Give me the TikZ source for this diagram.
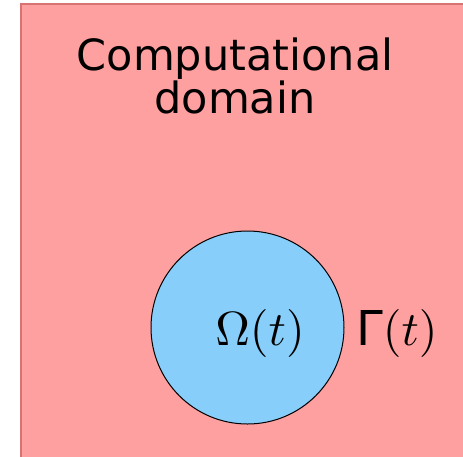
\documentclass[tikz,border=0pt]{standalone}
\usepackage{fontspec}
\usepackage{amsmath, amssymb}
\usepackage{graphicx}
\usepackage{tikz}
\usepackage{xcolor}
\usetikzlibrary{positioning}
\newfontfamily\domainfont{DejaVu Sans}
\definecolor{domainpink}{RGB}{255,160,160}
\definecolor{domainedge}{RGB}{215,115,115}
\definecolor{bubbleblue}{RGB}{135,206,250}

\begin{document}
\begin{tikzpicture}[x=1pt, y=-1pt]
    \useasboundingbox (0,0) rectangle (463,456);

    % dominio di calcolo
    \draw[line width=1.2pt, domainedge, fill=domainpink] (21,4) rectangle (480,470);
    \node[font=\domainfont\fontsize{43}{40}\selectfont, align=center, anchor=base]
        (title) at (235,113) {Computational\\domain};

    % bolla
    \node[circle, draw, line width=1pt, fill=bubbleblue, minimum size=193pt,
        inner sep=0pt] (omega) at (247.5,327.5) {};
    \node[anchor=base] (omegalabel)
        at (260,345) {\scalebox{4.8}{$\Omega(t)$}};
    \node[anchor=base west, inner sep=0pt]
        (gammalabel) at (356,345) {\scalebox{4.8}{$\text{\domainfont Γ}(t)$}};
\end{tikzpicture}
\end{document}
